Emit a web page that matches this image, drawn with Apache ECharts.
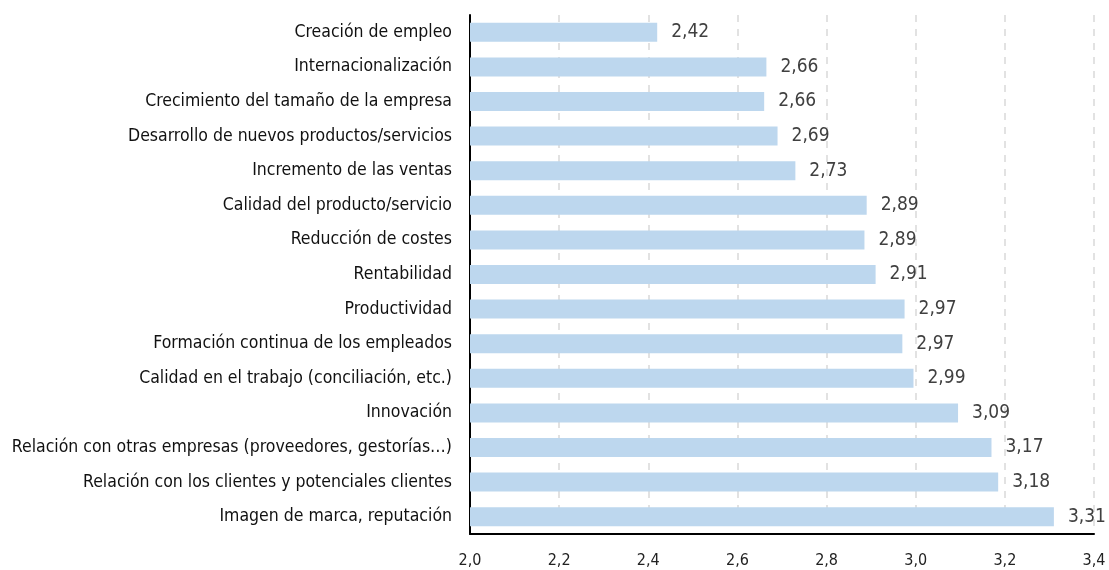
<!DOCTYPE html>
<html>
<head>
<meta charset="utf-8">
<script src="https://cdn.jsdelivr.net/npm/echarts@6/dist/echarts.min.js"></script>
<style>
  html, body { margin: 0; padding: 0; background: #fff; }
  #chart { width: 1109px; height: 570px; }
</style>
</head>
<body>
<div id="chart"></div>
<script>
// categorías (de arriba a abajo)
var categorias = [
    'Creación de empleo',
    'Internacionalización',
    'Crecimiento del tamaño de la empresa',
    'Desarrollo de nuevos productos/servicios',
    'Incremento de las ventas',
    'Calidad del producto/servicio',
    'Reducción de costes',
    'Rentabilidad',
    'Productividad',
    'Formación continua de los empleados',
    'Calidad en el trabajo (conciliación, etc.)',
    'Innovación',
    'Relación con otras empresas (proveedores, gestorías…)',
    'Relación con los clientes y potenciales clientes',
    'Imagen de marca, reputación'
];
var valores = [2.42, 2.66, 2.66, 2.69, 2.73, 2.89, 2.89, 2.91, 2.97, 2.97, 2.99, 3.09, 3.17, 3.18, 3.31];
// longitud de las barras
var finBarra = [2.42, 2.665, 2.66, 2.69, 2.73, 2.89, 2.885, 2.91, 2.975, 2.97, 2.995, 3.095, 3.17, 3.185, 3.31];

var fuente = "'DejaVu Sans Condensed', 'Liberation Sans Narrow', 'Arial Narrow', 'Liberation Sans', Arial, sans-serif";

var myChart = echarts.init(document.getElementById('chart'));

var option = {
    animation: false,
    grid: {
        left: 470,
        right: 15,
        top: 15,
        bottom: 36
    },
    xAxis: {
        type: 'value',
        min: 2.0,
        max: 3.4,
        interval: 0.2,
        axisLine: { show: true, lineStyle: { color: '#000', width: 2 } },
        axisTick: { show: false },
        axisLabel: {
            color: '#222',
            fontFamily: fuente,
            fontSize: 16,
            margin: 19,
            formatter: function (v) { return v.toFixed(1).replace('.', ','); }
        },
        splitLine: {
            show: true,
            lineStyle: { color: '#d9d9d9', type: [7, 7], width: 1.5 }
        }
    },
    yAxis: {
        type: 'category',
        data: categorias,
        inverse: true,
        axisLine: { show: true, lineStyle: { color: '#000', width: 2 } },
        axisTick: { show: false },
        axisLabel: {
            color: '#111',
            fontFamily: fuente,
            fontSize: 17.5,
            margin: 18
        }
    },
    series: [{
        type: 'bar',
        data: finBarra,
        barWidth: '55%',
        itemStyle: { color: '#bdd7ee' },
        label: {
            show: true,
            position: 'right',
            distance: 14,
            color: '#404040',
            fontFamily: fuente,
            fontSize: 19,
            formatter: function (p) { return valores[p.dataIndex].toFixed(2).replace('.', ','); }
        }
    }]
};

myChart.setOption(option);
</script>
</body>
</html>
